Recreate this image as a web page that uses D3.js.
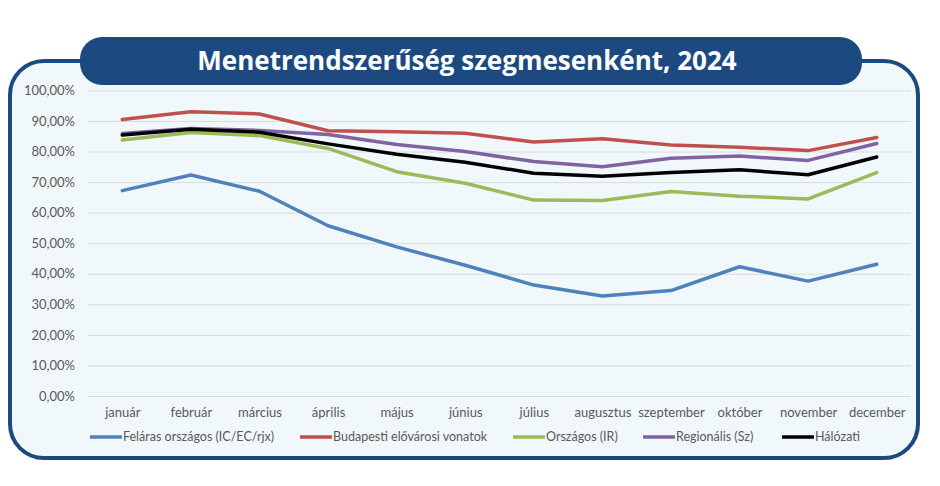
<!DOCTYPE html>
<html>
<head>
<meta charset="utf-8">
<script src="https://cdn.jsdelivr.net/npm/d3@7"></script>
<style>
  body { margin: 0; background: #fff; }
  svg { display: block; }
</style>
</head>
<body>
<div id="chart"></div>
<script>
// Data (percent values)
const months = ["január", "február", "március", "április", "május", "június",
  "július", "augusztus", "szeptember", "október", "november", "december"];

const felaras = [67.2, 72.3, 67.0, 55.7, 48.8, 42.8, 36.3, 32.7, 34.5, 42.3, 37.6, 43.1];
const budapesti = [90.5, 93.0, 92.3, 86.8, 86.5, 86.0, 83.1, 84.2, 82.1, 81.4, 80.3, 84.6];
const orszagos = [83.8, 86.2, 85.2, 81.0, 73.4, 69.6, 64.1, 64.0, 66.9, 65.4, 64.5, 73.1];
const regionalis = [85.9, 87.5, 86.9, 85.6, 82.3, 80.0, 76.7, 75.0, 77.8, 78.5, 77.1, 82.6];
const halozati = [85.4, 87.3, 86.3, 82.5, 79.1, 76.5, 72.9, 71.9, 73.1, 74.0, 72.4, 78.2];

const yTicks = [0, 10, 20, 30, 40, 50, 60, 70, 80, 90, 100];

const seriesNames = ["Feláras országos (IC/EC/rjx)", "Budapesti elővárosi vonatok",
  "Országos (IR)", "Regionális (Sz)", "Hálózati"];
const seriesColors = ["#4f81bd", "#c0504d", "#9bbb59", "#8064a2", "#000000"];
const seriesValues = [felaras, budapesti, orszagos, regionalis, halozati];

const width = 940;
const height = 486;

const svg = d3.select("#chart")
  .append("svg")
  .attr("width", width)
  .attr("height", height);

// Outer frame
svg.append("rect")
  .attr("x", 10)
  .attr("y", 61)
  .attr("width", 908)
  .attr("height", 397)
  .attr("rx", 34)
  .attr("ry", 34)
  .attr("fill", "#f1f8fc")
  .attr("stroke", "#1c4a80")
  .attr("stroke-width", 4);

// Title banner
svg.append("rect")
  .attr("x", 80)
  .attr("y", 37)
  .attr("width", 782)
  .attr("height", 48)
  .attr("rx", 22)
  .attr("ry", 22)
  .attr("fill", "#1c4a80");

svg.append("text")
  .attr("x", 467)
  .attr("y", 70)
  .attr("text-anchor", "middle")
  .attr("fill", "#fff")
  .style("font-family", "'Open Sans', sans-serif")
  .style("font-weight", "bold")
  .style("font-size", "26px")
  .text("Menetrendszerűség szegmesenként, 2024");

// Scales
const x = d3.scalePoint()
  .domain(months)
  .range([88, 911])
  .padding(0.5);

const y = d3.scaleLinear()
  .domain([0, 100])
  .range([396, 90.4]);

const labelFont = "Lato, 'Open Sans', sans-serif";

// Grid lines + y labels
const yAxis = svg.append("g")
  .attr("transform", "translate(88,0)")
  .call(d3.axisLeft(y)
    .tickValues(yTicks)
    .tickSize(-823)
    .tickPadding(13)
    .tickFormat((d) => d3.format(".2f")(d).replace(".", ",") + "%"));

yAxis.select(".domain").remove();
yAxis.selectAll(".tick line")
  .attr("stroke", "#d9d9d9")
  .attr("stroke-width", 1);
yAxis.selectAll(".tick text")
  .attr("fill", "#595959")
  .style("font-family", labelFont)
  .style("font-size", "13px");

// X labels
const xAxis = svg.append("g")
  .attr("transform", "translate(0,396)")
  .call(d3.axisBottom(x).tickSize(0).tickPadding(12));

xAxis.select(".domain").remove();
xAxis.selectAll(".tick text")
  .attr("fill", "#595959")
  .style("font-family", labelFont)
  .style("font-size", "13px");

// Lines
const line = d3.line()
  .x((d, i) => x(months[i]))
  .y((d) => y(d));

svg.append("g")
  .selectAll("path")
  .data(seriesValues)
  .enter()
  .append("path")
  .attr("d", line)
  .attr("fill", "none")
  .attr("stroke", (d, i) => seriesColors[i])
  .attr("stroke-width", 3.5)
  .attr("stroke-linejoin", "round")
  .attr("stroke-linecap", "round");

// Legend
const legendX = [90, 300, 513, 643, 782];
const legend = svg.append("g")
  .selectAll("g")
  .data(seriesNames)
  .enter()
  .append("g")
  .attr("transform", (d, i) => `translate(${legendX[i]},437)`);

legend.append("line")
  .attr("x1", 0)
  .attr("x2", 32)
  .attr("y1", 0)
  .attr("y2", 0)
  .attr("stroke", (d, i) => seriesColors[i])
  .attr("stroke-width", 3.5);

legend.append("text")
  .attr("x", 33)
  .attr("y", 0)
  .attr("dy", "0.35em")
  .attr("fill", "#595959")
  .style("font-family", labelFont)
  .style("font-size", "12.5px")
  .text((d) => d);
</script>
</body>
</html>
